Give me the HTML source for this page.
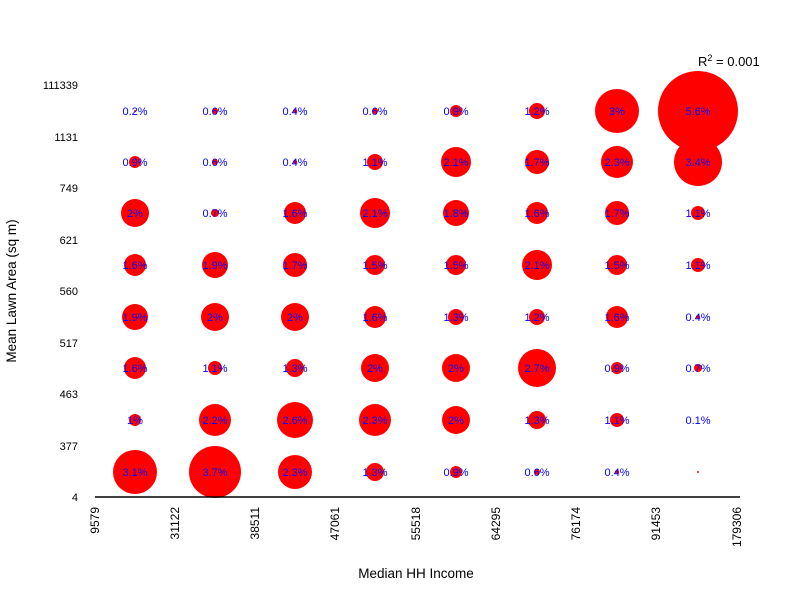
<!DOCTYPE html>
<html><head><meta charset="utf-8"><style>body{margin:0;background:#fff}</style></head><body>
<svg width="800" height="600" xmlns="http://www.w3.org/2000/svg" font-family="Liberation Sans, sans-serif">
<rect width="800" height="600" fill="#fff"/>
<g id="c" fill="#f00"></g>
<g id="t" fill="#00f" font-size="11" text-anchor="middle"></g>
<line x1="95" y1="497" x2="740" y2="497" stroke="#000" stroke-width="1.5"/>
<g font-size="11" text-anchor="end" fill="#000">
<text x="78" y="89">111339</text><text x="78" y="141">1131</text><text x="78" y="192">749</text>
<text x="78" y="244">621</text><text x="78" y="295">560</text><text x="78" y="347">517</text>
<text x="78" y="398">463</text><text x="78" y="450">377</text><text x="78" y="501">4</text>
</g>
<g font-size="12" text-anchor="end" fill="#000">
<text transform="translate(99,507) rotate(-90)">9579</text>
<text transform="translate(179,507) rotate(-90)">31122</text>
<text transform="translate(259,507) rotate(-90)">38511</text>
<text transform="translate(339,507) rotate(-90)">47061</text>
<text transform="translate(420,507) rotate(-90)">55518</text>
<text transform="translate(500,507) rotate(-90)">64295</text>
<text transform="translate(580,507) rotate(-90)">76174</text>
<text transform="translate(660,507) rotate(-90)">91453</text>
<text transform="translate(741,507) rotate(-90)">179306</text>
</g>
<text x="416" y="578" font-size="13.5" text-anchor="middle">Median HH Income</text>
<text transform="translate(16,291) rotate(-90)" font-size="13.5" text-anchor="middle">Mean Lawn Area (sq m)</text>
<text x="698" y="66" font-size="13">R<tspan font-size="9" dy="-5">2</tspan><tspan dy="5"> = 0.001</tspan></text>
<script>
var xs=[135,215,295,375,456,537,617,698];
var ys=[111,162,213,265,317,368,420,472];
var d=[
[["0.2%",1],["0.6%",3],["0.4%",2],["0.6%",3],["0.9%",6],["1.2%",8],["3%",22],["5.6%",40]],
[["0.9%",6],["0.6%",3],["0.4%",2],["1.1%",8],["2.1%",15],["1.7%",12],["2.3%",16],["3.4%",24]],
[["2%",14],["0.7%",4],["1.6%",11],["2.1%",15],["1.8%",13],["1.6%",11],["1.7%",12],["1.1%",7]],
[["1.6%",11],["1.9%",13],["1.7%",12],["1.5%",10],["1.5%",10],["2.1%",15],["1.5%",10],["1.1%",7]],
[["1.9%",13],["2%",14],["2%",14],["1.6%",11],["1.3%",8],["1.2%",8],["1.6%",11],["0.4%",2]],
[["1.6%",11],["1.1%",7],["1.3%",9],["2%",14],["2%",14],["2.7%",19],["0.9%",6],["0.7%",4]],
[["1%",6],["2.2%",16],["2.6%",18],["2.3%",16],["2%",14],["1.3%",9],["1.1%",7],["0.1%",0]],
[["3.1%",22],["3.7%",26],["2.3%",17],["1.3%",9],["0.9%",6],["0.6%",3],["0.4%",2],["",1]]];
var ns="http://www.w3.org/2000/svg",c=document.getElementById("c"),t=document.getElementById("t");
for(var i=0;i<8;i++)for(var j=0;j<8;j++){var v=d[i][j];
if(v[1]>0){var e=document.createElementNS(ns,"circle");e.setAttribute("cx",xs[j]);e.setAttribute("cy",ys[i]);e.setAttribute("r",v[1]);c.appendChild(e);}
if(v[0]){var s=document.createElementNS(ns,"text");s.setAttribute("x",xs[j]);s.setAttribute("y",ys[i]+4);s.textContent=v[0];t.appendChild(s);}}
</script>
</svg>
</body></html>
